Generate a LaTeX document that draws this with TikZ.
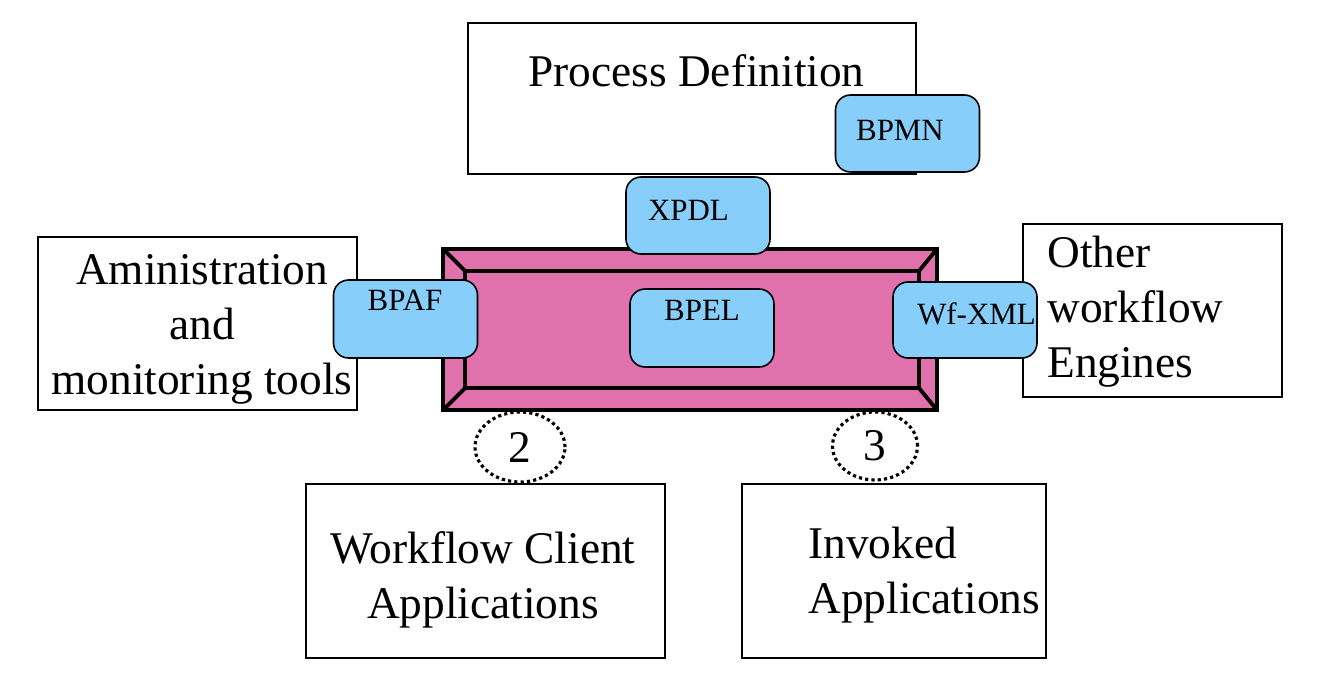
\documentclass[tikz,border=0pt]{standalone}
\usepackage{fontspec}
\setmainfont{LiberationSerif}[Extension=.ttf, UprightFont=*-Regular, BoldFont=*-Bold]
\usetikzlibrary{shapes.geometric}
\definecolor{enginepink}{RGB}{225,113,172}
\definecolor{tagblue}{RGB}{135,206,250}
\tikzset{
  sysbox/.style={draw, line width=1.6pt, rectangle, inner sep=0pt, outer sep=0pt, fill=white},
  tagbox/.style={draw, line width=0.9pt, rounded corners=0.3cm, fill=tagblue, inner sep=0pt, outer sep=0pt, minimum width=2.88cm, minimum height=1.54cm},
  bigtxt/.style={font=\fontsize{25.8}{31.3}\selectfont, inner sep=0pt},
  tagtxt/.style={font=\fontsize{17.6}{21}\selectfont, inner sep=0pt, anchor=base},
  ifacering/.style={draw, ellipse, line width=1.8pt, dash pattern=on 1.8pt off 1.8pt, inner sep=0pt, font=\fontsize{25.8}{31.3}\selectfont}
}
\begin{document}
\begin{tikzpicture}[x=0.02cm, y=-0.02cm]
\useasboundingbox (0,0) rectangle (1320,675);

% outer systems
\node[sysbox, minimum width=8.96cm, minimum height=3.02cm] (procdef) at (692,98.5) {};
\node[bigtxt, anchor=base] (procdef-t) at (696.5,87) {Process Definition};

\node[sysbox, minimum width=6.38cm, minimum height=3.46cm] (admin) at (197.5,323.5) {};
\node[bigtxt, align=center] (admin-t) at (202,329) {Aministration\\and\\monitoring tools};

\node[sysbox, minimum width=5.18cm, minimum height=3.46cm] (other) at (1152.5,310.5) {};
\node[bigtxt, align=left, anchor=west] (other-t) at (1047,311.5) {Other\\workflow\\Engines};

\node[sysbox, minimum width=7.18cm, minimum height=3.48cm] (client) at (485.5,571) {};
\node[bigtxt, align=center] (client-t) at (483,579.5) {Workflow Client\\Applications};

\node[sysbox, minimum width=6.08cm, minimum height=3.48cm] (invoked) at (894,571) {};
\node[bigtxt, align=left, anchor=west] (invoked-t) at (808,575) {Invoked\\Applications};

% workflow engine
\node[draw, line width=2.2pt, fill=enginepink, inner sep=0pt, outer sep=0pt, minimum width=9.88cm, minimum height=3.22cm] (engine) at (690,329.5) {};
\node[draw, line width=2.2pt, inner sep=0pt, outer sep=0pt, minimum width=9.08cm, minimum height=2.34cm] (core) at (692,329.5) {};
\foreach \c in {north west, north east, south west, south east}
  \draw[line width=2.2pt] (engine.\c) -- (core.\c);

% interfaces 2 and 3
\node[ifacering, minimum width=1.8cm, minimum height=1.4cm] (ring2) at (520,447) {2};
\node[ifacering, minimum width=1.7cm, minimum height=1.36cm] (ring3) at (875,446) {3};

% standards
\node[tagbox] (bpmn) at (907.5,133.5) {};
\node[tagtxt] (bpmn-t) at (900,141) {BPMN};

\node[tagbox] (xpdl) at (698,215.5) {};
\node[tagtxt] (xpdl-t) at (688.5,221) {XPDL};

\node[tagbox, minimum height=1.56cm] (bpel) at (702,328) {};
\node[tagtxt] (bpel-t) at (702,321) {BPEL};

\node[tagbox, minimum height=1.56cm] (bpaf) at (405.5,319) {};
\node[tagtxt] (bpaf-t) at (405,311) {BPAF};

\node[tagbox, minimum height=1.52cm] (wfxml) at (965,320) {};
\node[tagtxt] (wfxml-t) at (976.5,325) {Wf-XML};
\end{tikzpicture}
\end{document}
